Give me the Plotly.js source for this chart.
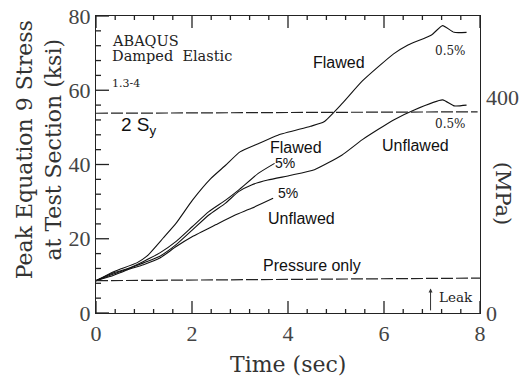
<!DOCTYPE html>
<html>
<head>
<meta charset="utf-8">
<script src="https://cdn.plot.ly/plotly-3.0.1.min.js"></script>
<style>html,body{margin:0;padding:0;background:#fff;}#chart{width:531px;height:376px;}</style>
</head>
<body>
<div id="chart"></div>
<script>
// ---- Data ----
const timeFlawed05 = [0, 0.38, 0.85, 1.06, 1.40, 1.67, 2.01, 2.39, 2.70, 3.00, 3.38, 3.79, 4.47, 4.75, 5.12, 5.55, 6.20, 6.50, 6.99, 7.22, 7.46, 7.72];
const ksiFlawed05  = [8.7, 11.2, 13.5, 15.3, 20.2, 24.2, 30.4, 36.2, 39.8, 43.4, 45.6, 47.9, 50.3, 51.5, 56.3, 62.5, 69.8, 72.2, 74.9, 77.4, 75.6, 75.6];

const timeUnflawed05 = [0, 0.38, 0.65, 0.99, 1.33, 1.67, 2.01, 2.35, 2.70, 2.97, 3.24, 3.58, 4.06, 4.55, 5.12, 5.55, 6.20, 6.63, 7.22, 7.46, 7.72];
const ksiUnflawed05  = [8.7, 10.6, 11.8, 13.5, 15.3, 18.4, 22.4, 26.4, 29.6, 32.7, 34.5, 35.8, 37.1, 38.6, 42.5, 46.7, 52.0, 54.7, 57.4, 55.8, 56.0];

const timeFlawed5 = [0, 0.38, 0.65, 0.99, 1.33, 1.67, 2.01, 2.35, 2.70, 2.97, 3.38, 3.72];
const ksiFlawed5  = [8.7, 10.9, 11.9, 13.9, 16.2, 19.3, 23.3, 27.3, 30.4, 33.1, 37.6, 40.3];

const timeUnflawed5 = [0, 0.31, 0.65, 0.99, 1.33, 1.67, 2.01, 2.49, 2.90, 3.24, 3.69];
const ksiUnflawed5  = [8.7, 9.9, 11.6, 13.0, 14.8, 17.9, 20.6, 23.75, 26.4, 28.2, 30.9];

const timePressure = [0, 8];
const ksiPressure  = [8.7, 9.4];

const time2Sy = [0, 7.95];
const ksi2Sy  = [53.8, 54.2];

const timeLeak = 6.97;

const xMax = 8, yMax = 80;
const xTickStep = 2, xMinorStep = 0.4;
const yTickStep = 20, yMinorStep = 4;
const mpaTickVals = [0, 400];
const KSI_TO_MPA = 6.894757;

// ---- Chart ----
const W = 531, H = 376;
const M = {l: 96, r: 51, t: 16, b: 63};
const plotW = W - M.l - M.r, plotH = H - M.t - M.b;

// tick marks (inside, bottom + mirrored top + left) built as one line trace from the axis steps
const isMajor = (v, step) => Math.abs(v / step - Math.round(v / step)) < 1e-6;
const tickX = [], tickY = [];
const nx = Math.round(xMax / xMinorStep);
for (let i = 0; i <= nx; i++) {
  const t = i * xMinorStep;
  const lenK = (isMajor(t, xTickStep) ? 12 : 4) * yMax / plotH;
  tickX.push(t, t, null, t, t, null);
  tickY.push(0, lenK, null, yMax, yMax - lenK, null);
}
const ny = Math.round(yMax / yMinorStep);
for (let j = 0; j <= ny; j++) {
  const v = j * yMinorStep;
  const lenS = (isMajor(v, yTickStep) ? 13 : 5) * xMax / plotW;
  tickX.push(0, lenS, null);
  tickY.push(v, v, null);
}

const lineStyle = {color: '#111', width: 1.1, shape: 'spline', smoothing: 0.5};
const traces = [
  {x: tickX, y: tickY, mode: 'lines', line: {color: '#222', width: 1.3}, connectgaps: false, hoverinfo: 'skip', cliponaxis: false, name: 'ticks'},
  {x: timeFlawed05, y: ksiFlawed05, mode: 'lines', line: lineStyle, name: 'Flawed 0.5%'},
  {x: timeUnflawed05, y: ksiUnflawed05, mode: 'lines', line: lineStyle, name: 'Unflawed 0.5%'},
  {x: timeFlawed5, y: ksiFlawed5, mode: 'lines', line: lineStyle, name: 'Flawed 5%'},
  {x: timeUnflawed5, y: ksiUnflawed5, mode: 'lines', line: lineStyle, name: 'Unflawed 5%'},
  {x: timePressure, y: ksiPressure, mode: 'lines', line: {color: '#222', width: 1.2, dash: '12px,3px'}, name: 'Pressure only'},
  {x: time2Sy, y: ksi2Sy, mode: 'lines', line: {color: '#222', width: 1.2, dash: '12px,3px'}, name: '2 Sy'}
];

const serif = 'DejaVu Serif';
const tickFont = {family: 'Liberation Serif', size: 22, color: '#444'};
const sans = 'Liberation Sans';

const ann = (x, y, text, font, extra) => Object.assign({x: x, y: y, xref: 'x', yref: 'y', text: text, showarrow: false, font: font}, extra || {});

const annotations = [
  ann(0.30, 73.4, 'ABAQUS', {family: serif, size: 14.5, color: '#222'}, {xanchor: 'left'}),
  ann(0.30, 69.3, 'Damped  Elastic', {family: serif, size: 14.5, color: '#222'}, {xanchor: 'left'}),
  ann(0.30, 61.8, '1.3-4', {family: serif, size: 11, color: '#222'}, {xanchor: 'left'}),
  ann(0.47, 50.3, '2 S<sub>y</sub>', {family: sans, size: 19, color: '#111'}, {xanchor: 'left'}),
  ann(5.06, 67.5, 'Flawed', {family: sans, size: 16, color: '#111'}),
  ann(7.39, 70.5, '0.5%', {family: serif, size: 12, color: '#222'}),
  ann(7.39, 50.8, '0.5%', {family: serif, size: 12, color: '#222'}),
  ann(4.17, 44.7, 'Flawed', {family: sans, size: 16, color: '#111'}),
  ann(3.94, 40.4, '5%', {family: sans, size: 14, color: '#111'}),
  ann(4.00, 32.4, '5%', {family: sans, size: 14, color: '#111'}),
  ann(4.29, 25.5, 'Unflawed', {family: sans, size: 16, color: '#111'}),
  ann(6.65, 45.2, 'Unflawed', {family: sans, size: 16, color: '#111'}),
  ann(4.51, 12.7, 'Pressure only', {family: sans, size: 16, color: '#111'}),
  ann(7.50, 4.2, 'Leak', {family: serif, size: 13.5, color: '#222'}),
  {x: timeLeak, y: 6.6, xref: 'x', yref: 'y', ax: timeLeak, ay: 0.3, axref: 'x', ayref: 'y', text: '', showarrow: true,
   arrowhead: 2, arrowsize: 0.8, arrowwidth: 1, arrowcolor: '#333'},
  // right-hand MPa scale labels
  ...mpaTickVals.map(v => ({x: 1, y: v / KSI_TO_MPA, xref: 'paper', yref: 'y', text: String(v), showarrow: false,
    xanchor: 'left', xshift: 4, font: tickFont})),
  // axis titles
  {x: -0.225, y: 0.55, xref: 'paper', yref: 'paper', text: 'Peak Equation 9 Stress<br>at Test Section (ksi)', textangle: -90,
   showarrow: false, font: {family: serif, size: 22, color: '#333'}},
  {x: 0.5, y: -0.175, xref: 'paper', yref: 'paper', text: 'Time (sec)', showarrow: false, yanchor: 'middle',
   font: {family: serif, size: 22, color: '#333'}},
  {x: 1.095, y: 0.40, xref: 'paper', yref: 'paper', text: '(MPa)', textangle: 90, showarrow: false,
   font: {family: serif, size: 21, color: '#333'}}
];

const layout = {
  width: W, height: H,
  margin: {l: M.l, r: M.r, t: M.t, b: M.b, pad: 0},
  paper_bgcolor: '#fff', plot_bgcolor: '#fff',
  showlegend: false,
  xaxis: {
    range: [0, xMax], tickmode: 'linear', tick0: 0, dtick: xTickStep, ticks: '',
    showline: true, linecolor: '#222', linewidth: 1.3, mirror: true, showgrid: false, zeroline: false,
    tickfont: tickFont
  },
  yaxis: {
    range: [0, yMax], tickmode: 'linear', tick0: 0, dtick: yTickStep, ticks: '',
    showline: true, linecolor: '#222', linewidth: 1.3, mirror: true, showgrid: false, zeroline: false,
    tickfont: tickFont
  },
  annotations: annotations
};

Plotly.newPlot('chart', traces, layout, {displayModeBar: false});
</script>
</body>
</html>
